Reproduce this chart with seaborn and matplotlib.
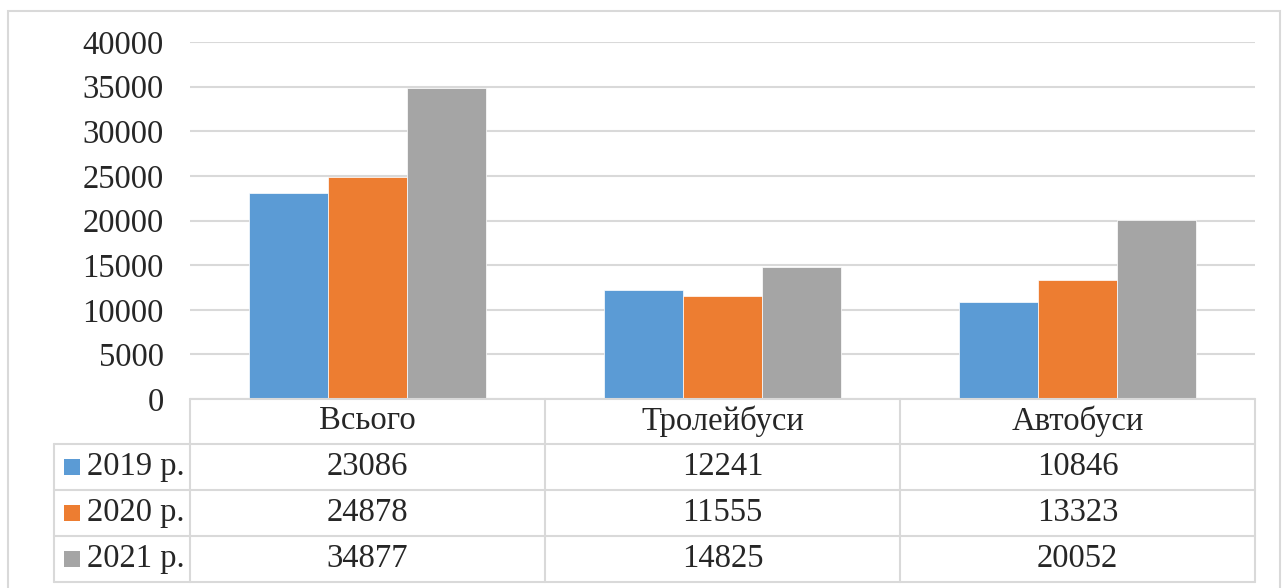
import matplotlib
matplotlib.use("Agg")
import matplotlib.pyplot as plt
from matplotlib.lines import Line2D
from matplotlib.patches import Rectangle
import seaborn as sns
import pandas as pd

categories = ["Всього", "Тролейбуси", "Автобуси"]
years = ["2019 р.", "2020 р.", "2021 р."]
values_2019 = [23086, 12241, 10846]
values_2020 = [24878, 11555, 13323]
values_2021 = [34877, 14825, 20052]
colors = ["#5B9BD5", "#ED7D31", "#A5A5A5"]
y_ticks = [0, 5000, 10000, 15000, 20000, 25000, 30000, 35000, 40000]

series = [values_2019, values_2020, values_2021]
rows = []
for year, vals in zip(years, series):
    for cat, v in zip(categories, vals):
        rows.append({"category": cat, "year": year, "value": v})
df = pd.DataFrame(rows)

sns.set_style("white")
plt.rcParams["font.family"] = ["Liberation Serif", "DejaVu Serif"]

FS = 23.5
W, H = 1287, 588
fig = plt.figure(figsize=(W / 100, H / 100), dpi=100)

def fx(px):
    return px / W

def fy(py):
    return 1 - py / H

left, right, top, bottom = 190, 1255, 42, 399
ax = fig.add_axes([fx(left), fy(bottom), fx(right) - fx(left), fy(top) - fy(bottom)])

sns.barplot(data=df, x="category", y="value", hue="year", order=categories,
            hue_order=years, palette=colors, width=0.667, gap=0,
            saturation=1, legend=False, ax=ax, zorder=3, linewidth=0.5,
            edgecolor="white")

ax.set_xlim(-0.5, 2.5)
ax.set_ylim(0, 40000)
ax.set_yticks(y_ticks)
ax.set_yticklabels([str(t) for t in y_ticks], fontsize=FS)
ax.set_xticks([])
ax.set_xlabel("")
ax.set_ylabel("")
ax.tick_params(axis="y", length=0, pad=19)
for s in ax.spines.values():
    s.set_visible(False)
ax.yaxis.grid(True, color="#d9d9d9", linewidth=1.5, zorder=0)
ax.set_axisbelow(True)

grid_c = "#d9d9d9"
lw = 1.5

def hline(y, x0, x1):
    fig.add_artist(Line2D([fx(x0), fx(x1)], [fy(y), fy(y)], color=grid_c, lw=lw))

def vline(x, y0, y1):
    fig.add_artist(Line2D([fx(x), fx(x)], [fy(y0), fy(y1)], color=grid_c, lw=lw))

# outer chart border
fig.add_artist(Rectangle((fx(8), fy(600)), fx(1280) - fx(8), fy(11) - fy(600),
                         fill=False, edgecolor=grid_c, lw=1.5))

# data table grid
row_y = [444, 490, 536, 582]
col_x = [190, 545, 900, 1255]
hline(399, 190, 1255)
for y in row_y:
    hline(y, 54, 1255)
vline(54, 444, 582)
for x in col_x:
    vline(x, 399, 582)

# header row with category names
for i, cat in enumerate(categories):
    cx = (col_x[i] + col_x[i + 1]) / 2
    fig.text(fx(cx), fy(421), cat, ha="center", va="center", fontsize=FS)

# value rows with legend keys
for r, (year, vals, c) in enumerate(zip(years, series, colors)):
    cy = (row_y[r] + row_y[r + 1]) / 2
    fig.add_artist(Rectangle((fx(64), fy(cy + 8)), fx(16), fy(cy - 8) - fy(cy + 8),
                             facecolor=c, edgecolor="none"))
    fig.text(fx(87), fy(cy), year, ha="left", va="center", fontsize=FS)
    for i, v in enumerate(vals):
        cx = (col_x[i] + col_x[i + 1]) / 2
        fig.text(fx(cx), fy(cy), str(v), ha="center", va="center", fontsize=FS)

fig.savefig("out.png", dpi=100, facecolor="white")
